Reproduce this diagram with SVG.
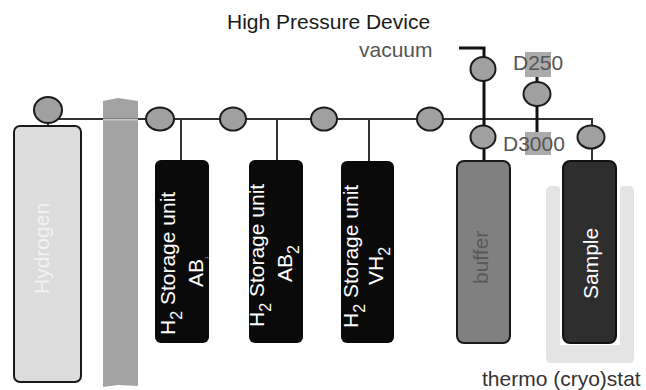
<svg xmlns="http://www.w3.org/2000/svg" width="646" height="390" viewBox="0 0 646 390">
<style>
text{font-family:"Liberation Sans",Arial,sans-serif}
.v{fill:#a0a0a0;stroke:#1c1c1c;stroke-width:2}
.l{fill:none;stroke:#333;stroke-width:2}
.k{fill:none;stroke:#111;stroke-width:3}
.t{font-size:21px;fill:#fff}
.s{font-size:21px;fill:#555}
</style>
<rect width="646" height="390" fill="#fff"/>
<g id="cryostat"><path d="M546 192Q546 186 552 186H556Q560 186 560 190V345H620V190Q620 186 624 186H630Q634 186 634 192V358Q634 363 630 363H551Q546 363 546 358Z" fill="#e4e4e4"/></g>
<g id="wall"><path d="M103 101L118 98L138 101V386L118 385L103 387Z" fill="#a3a3a3"/></g>
<g id="connectors">
<path class="l" d="M48 119H592V126"/>
<path d="M103 119.500H138" stroke="#c8c8c8" stroke-width="2"/>
<path class="l" d="M181 119V160M277 119V160M369 119V161"/>
<path class="k" d="M459 48H484V160"/>
<path class="k" d="M537 77V132"/>
<path class="l" d="M592 148V161M48 122V127"/>
</g>
<g id="D250"><rect x="525" y="52" width="26" height="25" fill="#ababab"/><text x="513" y="70" class="s">D250</text></g>
<g id="D3000"><rect x="525" y="132" width="26" height="23" fill="#ababab"/><text x="503" y="151" class="s">D3000</text></g>
<g id="hydrogen"><rect x="14" y="126" width="67" height="256" rx="6" fill="#dcdcdc" stroke="#1a1a1a" stroke-width="2"/><text transform="translate(49 294) rotate(-90)" style="font-size:21px;fill:#f2f2f2">Hydrogen</text></g>
<g id="unit-ab"><rect x="155" y="160" width="54" height="183" rx="6" fill="#0a0a0a"/><text transform="translate(175 335) rotate(-90)" class="t">H<tspan dy="7" font-size="16">2</tspan><tspan dy="-7"> Storage unit</tspan></text><text transform="translate(203 287) rotate(-90)" class="t">AB<tspan dy="5" font-size="4">1</tspan></text></g>
<g id="unit-ab2"><rect x="249" y="160" width="54" height="183" rx="6" fill="#0a0a0a"/><text transform="translate(264 327) rotate(-90)" class="t">H<tspan dy="7" font-size="16">2</tspan><tspan dy="-7"> Storage unit</tspan></text><text transform="translate(292 282) rotate(-90)" class="t">AB<tspan dy="7" font-size="16">2</tspan></text></g>
<g id="unit-vh2"><rect x="341" y="161" width="53" height="182" rx="6" fill="#0a0a0a"/><text transform="translate(358 328) rotate(-90)" class="t">H<tspan dy="7" font-size="16">2</tspan><tspan dy="-7"> Storage unit</tspan></text><text transform="translate(383 285) rotate(-90)" class="t">VH<tspan dy="7" font-size="16">2</tspan></text></g>
<g id="buffer"><rect x="457" y="161" width="53" height="182" rx="7" fill="#808080" stroke="#1a1a1a" stroke-width="2"/><text transform="translate(488 284) rotate(-90)" style="font-size:21px;fill:#5a5a5a">buffer</text></g>
<g id="sample"><rect x="563" y="161" width="53" height="182" rx="7" fill="#2e2e2e" stroke="#111" stroke-width="2"/><text transform="translate(598 299) rotate(-90)" class="t">Sample</text></g>
<g id="valve-1"><ellipse class="v" cx="48" cy="110" rx="14" ry="13"/></g>
<g id="valve-2"><ellipse class="v" cx="160" cy="119" rx="14" ry="11.500"/></g>
<g id="valve-3"><ellipse class="v" cx="233" cy="119" rx="13" ry="11.500"/></g>
<g id="valve-4"><ellipse class="v" cx="324" cy="119" rx="13" ry="11.500"/></g>
<g id="valve-5"><ellipse class="v" cx="430" cy="119" rx="13" ry="11.500"/></g>
<g id="valve-6"><ellipse class="v" cx="483" cy="69" rx="12.500" ry="12"/></g>
<g id="valve-7"><ellipse class="v" cx="483" cy="137" rx="12.500" ry="11.500"/></g>
<g id="valve-8"><ellipse class="v" cx="537" cy="94" rx="13.500" ry="12"/></g>
<g id="valve-9"><ellipse class="v" cx="591" cy="137" rx="13.500" ry="11.500"/></g>
<g id="labels">
<text x="227" y="29" style="font-size:21px;fill:#1a1a1a">High Pressure Device</text>
<text x="359" y="57" class="s">vacuum</text>
<text x="482" y="386" style="font-size:21px;fill:#333">thermo (cryo)stat</text>
</g>
</svg>
